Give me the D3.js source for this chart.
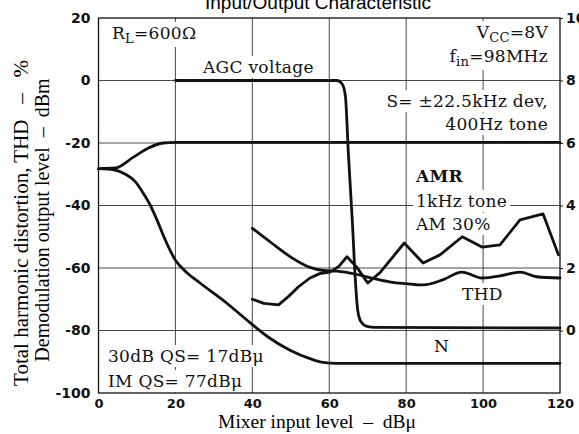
<!DOCTYPE html>
<html>
<head>
<meta charset="utf-8">
<script src="https://cdn.jsdelivr.net/npm/d3@7"></script>
<style>
  body { margin: 0; background: #fff; }
  svg { display: block; }
</style>
</head>
<body>
<svg></svg>
<script>
// chart size and plot box
const width = 579, height = 434;
const plot_left = 98.5, plot_right = 560, plot_top = 18, plot_bottom = 393;

// ticks
const x_ticks = [0, 20, 40, 60, 80, 100, 120];
const left_ticks = [20, 0, -20, -40, -60, -80, -100];
const right_ticks = [10, 8, 6, 4, 2, 0];
const grid_x = [20, 40, 60, 80, 100];
const grid_y = [0, -20, -40, -60, -80];

// curves on the dBm axis : [input dBu, dBm]
const agc_voltage = [[20, 0], [62, 0], [63.4, -1.2], [64.2, -5], [65, -24], [66, -45], [66.8, -64],
  [67.4, -73.5], [68.3, -77.3], [69.8, -78.7], [72, -79], [120, -79.2]];
const demod_output = [[0, -28.2], [4.3, -28], [9, -24.6], [13, -21.6], [16.8, -20], [20, -19.8], [120, -19.8]];
const noise = [[0, -28.2], [4, -28.6], [7, -30], [9.5, -32.3], [11.6, -36], [13.5, -40], [15.2, -44.6],
  [17, -50], [20, -57.5], [23, -61.5], [26.4, -64.8], [33.3, -71.2], [39.4, -77.5], [44, -82],
  [49.8, -86.3], [55, -89], [58.4, -90.2], [62, -90.5], [120, -90.5]];

// curves on the % axis : [input dBu, %]
const thd = [[40, 3.27], [45, 2.8], [50, 2.35], [55, 2.02], [58.5, 1.92], [62, 1.9], [67, 1.8],
  [72, 1.65], [76, 1.55], [80, 1.5], [84.5, 1.46], [89.5, 1.62], [94.5, 1.87], [99.7, 1.68],
  [105, 1.76], [109.6, 1.87], [114, 1.72], [120, 1.68]];
const amr = [[40, 1.0], [43, 0.87], [46.8, 0.82], [49.5, 1.1], [52, 1.4], [55, 1.68], [57.5, 1.82],
  [60.2, 1.87], [62.5, 2.05], [64.6, 2.36], [67.2, 2.02], [70, 1.52], [73.2, 1.85], [79.5, 2.8],
  [84.4, 2.16], [88.8, 2.42], [94.6, 3.0], [99.7, 2.67], [104.4, 2.74], [109.6, 3.54],
  [115.6, 3.73], [119.6, 2.42]];

let svg = d3.select("svg")
    .attr("width", width)
    .attr("height", height);

svg.append("rect").attr("width", width).attr("height", height).attr("fill", "#fff");

// scales
let x = d3.scaleLinear().domain([0, 120]).range([plot_left, plot_right]);
let y_left = d3.scaleLinear().domain([-100, 20]).range([plot_bottom, plot_top]);
let y_right = d3.scaleLinear().domain([0, 10]).range([y_left(-80), y_left(20)]);

// grid
let grid = svg.append("g").attr("stroke", "#333").attr("stroke-width", 0.9);
grid.selectAll(".gx").data(grid_x).enter().append("line")
    .attr("x1", d => x(d)).attr("x2", d => x(d))
    .attr("y1", plot_top).attr("y2", plot_bottom);
grid.selectAll(".gy").data(grid_y).enter().append("line")
    .attr("x1", plot_left).attr("x2", plot_right)
    .attr("y1", d => y_left(d)).attr("y2", d => y_left(d));

// layer for white boxes behind the labels, then curves, then labels
let knock = svg.append("g");
let curves = svg.append("g").attr("fill", "none").attr("stroke", "#111")
    .attr("stroke-width", 2.8).attr("stroke-linejoin", "round").attr("stroke-linecap", "round");
let labels = svg.append("g").attr("font-family", "DejaVu Serif").attr("font-size", 17)
    .attr("fill", "#111").attr("letter-spacing", 0.3);

let smooth_left = d3.line().x(d => x(d[0])).y(d => y_left(d[1])).curve(d3.curveMonotoneX);
let smooth_right = d3.line().x(d => x(d[0])).y(d => y_right(d[1])).curve(d3.curveMonotoneX);
let linear_right = d3.line().x(d => x(d[0])).y(d => y_right(d[1]));

curves.append("path").attr("d", smooth_left(demod_output));
curves.append("path").attr("d", smooth_left(noise));
curves.append("path").attr("d", smooth_left(agc_voltage));
curves.append("path").attr("d", smooth_right(thd));
curves.append("path").attr("d", linear_right(amr));

// label helper: parts are [text, is_subscript, back_up]
function add_label(px, py, parts, anchor) {
    let t = labels.append("text").attr("x", px).attr("y", py)
        .attr("text-anchor", anchor || "start");
    parts.forEach(p => {
        let s = t.append("tspan").text(p[0]);
        if (p[1]) s.attr("font-size", 13).attr("dy", 4);
        else if (p[2]) s.attr("dy", -4);
    });
    let b = t.node().getBBox();
    knock.append("rect").attr("x", b.x - 3).attr("y", b.y - 1)
        .attr("width", b.width + 6).attr("height", b.height + 2).attr("fill", "#fff");
    return t;
}

add_label(112, 39, [["R"], ["L", true], ["=600Ω", false, true]]);
add_label(203, 73, [["AGC voltage"]]);
add_label(548, 38, [["V"], ["CC", true], ["=8V", false, true]], "end");
add_label(548, 62, [["f"], ["in", true], ["=98MHz", false, true]], "end");
add_label(548, 107, [["S= ±22.5kHz dev,"]], "end");
add_label(548, 130, [["400Hz tone"]], "end");
add_label(416, 182, [["AMR"]]).attr("font-weight", "bold");
add_label(416, 207, [["1kHz tone"]]);
add_label(416, 230, [["AM 30%"]]);
add_label(462, 300, [["THD"]]);
add_label(434, 352, [["N"]]);
add_label(108, 362, [["30dB QS= 17dBμ"]]);
add_label(108, 387, [["IM QS= 77dBμ"]]);

// axes
let ax_left = svg.append("g").attr("transform", "translate(" + plot_left + ",0)")
    .call(d3.axisLeft(y_left).tickValues(left_ticks).tickSize(0).tickPadding(8).tickFormat(d => String(d)));
let ax_bottom = svg.append("g").attr("transform", "translate(0," + plot_bottom + ")")
    .call(d3.axisBottom(x).tickValues(x_ticks).tickSize(0).tickPadding(6).tickFormat(d => String(d)));
let ax_right = svg.append("g").attr("transform", "translate(" + plot_right + ",0)")
    .call(d3.axisRight(y_right).tickValues(right_ticks).tickSize(3).tickPadding(3).tickFormat(d => String(d)));
[ax_left, ax_bottom, ax_right].forEach(a => {
    a.select(".domain").remove();
    a.selectAll("text").attr("font-family", "DejaVu Sans").attr("font-weight", "bold")
        .attr("font-size", 14).attr("fill", "#111");
    a.selectAll("line").attr("stroke", "#111");
});
ax_bottom.selectAll("text").attr("font-size", 13);

// frame
svg.append("rect")
    .attr("x", plot_left).attr("y", plot_top)
    .attr("width", plot_right - plot_left).attr("height", plot_bottom - plot_top)
    .attr("fill", "none").attr("stroke", "#111").attr("stroke-width", 1.3);

// title (cut at the top in the source)
svg.append("text")
    .attr("x", 318).attr("y", 8.5)
    .attr("text-anchor", "middle")
    .attr("font-family", "Liberation Sans").attr("font-size", 19)
    .text("Input/Output Characteristic");

// axis titles
let serif = "Liberation Serif";
const gap2 = "\u00a0\u00a0–\u00a0\u00a0", gap3 = "\u00a0\u00a0\u00a0–\u00a0\u00a0\u00a0";
svg.append("text")
    .attr("transform", "translate(28,223) rotate(-90)")
    .attr("text-anchor", "middle")
    .attr("font-family", serif).attr("font-size", 21)
    .text("Total harmonic distortion, THD" + gap3 + "%");
svg.append("text")
    .attr("transform", "translate(49,220) rotate(-90)")
    .attr("text-anchor", "middle")
    .attr("font-family", serif).attr("font-size", 20)
    .text("Demodulation output level" + gap2 + "dBm");
svg.append("text")
    .attr("x", 317).attr("y", 428)
    .attr("text-anchor", "middle")
    .attr("font-family", serif).attr("font-size", 19.5)
    .text("Mixer input level" + gap2 + "dBμ");
</script>
</body>
</html>
